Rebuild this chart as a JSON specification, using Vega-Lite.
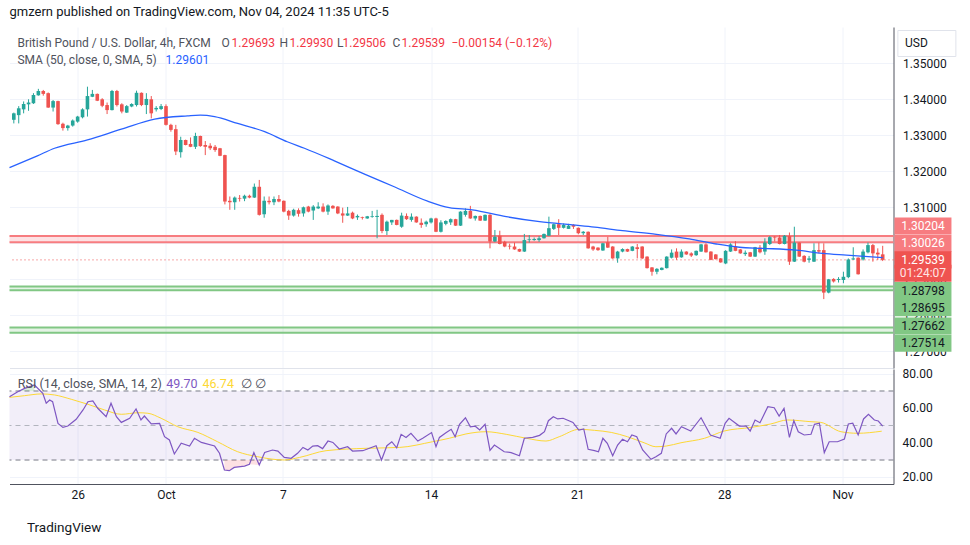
{
"$schema": "https://vega.github.io/schema/vega-lite/v6.json",
"background": "#ffffff",
"padding": {"left": 6.5, "top": 6, "right": 5, "bottom": 5},
"bounds": "flush",
"spacing": 1,
"title": {"text": "gmzern published on TradingView.com, Nov 04, 2024 11:35 UTC-5", "anchor": "start", "frame": "group", "fontSize": 13, "fontWeight": "normal", "font": "Roboto", "color": "#131722", "offset": 8},
"config": {"view": {"stroke": null}, "font": "Roboto", "text": {"font": "Roboto", "fontSize": 12.5, "baseline": "middle", "align": "left"}, "axis": {"labelFont": "Roboto", "titleFont": "Roboto"}},
"datasets": {
"candles": [
{"n":1,"o":1.3343,"h":1.3363,"l":1.3333,"c":1.3361},{"n":2,"o":1.3356,"h":1.3381,"l":1.3333,"c":1.3375},{"n":3,"o":1.3372,"h":1.3394,"l":1.3361,"c":1.3387},{"n":4,"o":1.3386,"h":1.34,"l":1.3368,"c":1.3391},{"n":5,"o":1.3389,"h":1.3417,"l":1.3387,"c":1.3412},{"n":6,"o":1.3411,"h":1.3429,"l":1.341,"c":1.3423},{"n":7,"o":1.3423,"h":1.3426,"l":1.341,"c":1.3415},{"n":8,"o":1.3417,"h":1.3419,"l":1.3376,"c":1.3377},{"n":9,"o":1.3377,"h":1.3398,"l":1.3366,"c":1.3395},{"n":10,"o":1.3395,"h":1.3396,"l":1.3329,"c":1.3331},
{"n":11,"o":1.3332,"h":1.3335,"l":1.3313,"c":1.332},{"n":12,"o":1.332,"h":1.3329,"l":1.3313,"c":1.3327},{"n":13,"o":1.3327,"h":1.3344,"l":1.3324,"c":1.3341},{"n":14,"o":1.3338,"h":1.3354,"l":1.3335,"c":1.3352},{"n":15,"o":1.335,"h":1.3375,"l":1.3347,"c":1.3372},{"n":16,"o":1.3372,"h":1.3435,"l":1.3352,"c":1.3409},{"n":17,"o":1.3407,"h":1.3426,"l":1.3406,"c":1.3415},{"n":18,"o":1.3415,"h":1.3416,"l":1.3395,"c":1.3396},{"n":19,"o":1.34,"h":1.3403,"l":1.3378,"c":1.3382},{"n":20,"o":1.3384,"h":1.3391,"l":1.3359,"c":1.337},
{"n":21,"o":1.337,"h":1.3426,"l":1.3369,"c":1.3423},{"n":22,"o":1.3423,"h":1.3426,"l":1.338,"c":1.3384},{"n":23,"o":1.3386,"h":1.3389,"l":1.3361,"c":1.3366},{"n":24,"o":1.3363,"h":1.3384,"l":1.3362,"c":1.3381},{"n":25,"o":1.338,"h":1.3389,"l":1.3378,"c":1.3387},{"n":26,"o":1.3384,"h":1.3424,"l":1.338,"c":1.3418},{"n":27,"o":1.3418,"h":1.3419,"l":1.3381,"c":1.3384},{"n":28,"o":1.3384,"h":1.3417,"l":1.3359,"c":1.3401},{"n":29,"o":1.34,"h":1.3409,"l":1.3347,"c":1.3361},{"n":30,"o":1.3372,"h":1.3381,"l":1.3366,"c":1.3376},
{"n":31,"o":1.3373,"h":1.3387,"l":1.337,"c":1.3381},{"n":32,"o":1.3381,"h":1.3386,"l":1.3327,"c":1.3329},{"n":33,"o":1.3329,"h":1.3332,"l":1.331,"c":1.3315},{"n":34,"o":1.3317,"h":1.3329,"l":1.3245,"c":1.3255},{"n":35,"o":1.3253,"h":1.3296,"l":1.3238,"c":1.3287},{"n":36,"o":1.3287,"h":1.3288,"l":1.3272,"c":1.3273},{"n":37,"o":1.3276,"h":1.3294,"l":1.3267,"c":1.3268},{"n":38,"o":1.3268,"h":1.3307,"l":1.3262,"c":1.3298},{"n":39,"o":1.3298,"h":1.3299,"l":1.3268,"c":1.327},{"n":40,"o":1.3273,"h":1.3284,"l":1.3245,"c":1.3268},
{"n":41,"o":1.3271,"h":1.3278,"l":1.3259,"c":1.3264},{"n":42,"o":1.3268,"h":1.3273,"l":1.3254,"c":1.3259},{"n":43,"o":1.3264,"h":1.3265,"l":1.3242,"c":1.3243},{"n":44,"o":1.3245,"h":1.3246,"l":1.3108,"c":1.3116},{"n":45,"o":1.3118,"h":1.313,"l":1.3093,"c":1.3114},{"n":46,"o":1.3114,"h":1.313,"l":1.3093,"c":1.3127},{"n":47,"o":1.3126,"h":1.3134,"l":1.3116,"c":1.3124},{"n":48,"o":1.3124,"h":1.3135,"l":1.3117,"c":1.3132},{"n":49,"o":1.3132,"h":1.3135,"l":1.3125,"c":1.3127},{"n":50,"o":1.3127,"h":1.3166,"l":1.3126,"c":1.3157},
{"n":51,"o":1.3157,"h":1.3176,"l":1.3077,"c":1.3079},{"n":52,"o":1.3081,"h":1.313,"l":1.3071,"c":1.3118},{"n":53,"o":1.3118,"h":1.313,"l":1.3108,"c":1.3114},{"n":54,"o":1.3114,"h":1.313,"l":1.3106,"c":1.3123},{"n":55,"o":1.3123,"h":1.3134,"l":1.3114,"c":1.3116},{"n":56,"o":1.3118,"h":1.3119,"l":1.3086,"c":1.3088},{"n":57,"o":1.309,"h":1.3093,"l":1.3065,"c":1.3077},{"n":58,"o":1.3077,"h":1.3096,"l":1.3074,"c":1.3093},{"n":59,"o":1.3092,"h":1.3097,"l":1.3074,"c":1.3082},{"n":60,"o":1.3083,"h":1.3102,"l":1.3074,"c":1.31},
{"n":61,"o":1.3102,"h":1.3104,"l":1.3086,"c":1.3088},{"n":62,"o":1.3091,"h":1.3106,"l":1.3065,"c":1.3102},{"n":63,"o":1.3097,"h":1.3114,"l":1.3095,"c":1.3102},{"n":64,"o":1.3102,"h":1.3111,"l":1.3086,"c":1.3088},{"n":65,"o":1.3088,"h":1.3108,"l":1.3079,"c":1.3105},{"n":66,"o":1.3104,"h":1.3106,"l":1.3096,"c":1.3097},{"n":67,"o":1.3102,"h":1.3103,"l":1.3081,"c":1.3083},{"n":68,"o":1.3083,"h":1.3099,"l":1.3057,"c":1.3077},{"n":69,"o":1.3077,"h":1.3101,"l":1.3076,"c":1.3083},{"n":70,"o":1.3085,"h":1.3088,"l":1.3067,"c":1.3069},
{"n":71,"o":1.3072,"h":1.308,"l":1.3065,"c":1.3076},{"n":72,"o":1.3073,"h":1.3074,"l":1.3066,"c":1.3071},{"n":73,"o":1.3069,"h":1.3076,"l":1.3068,"c":1.3075},{"n":74,"o":1.3073,"h":1.309,"l":1.3071,"c":1.3075},{"n":75,"o":1.3073,"h":1.3093,"l":1.3014,"c":1.3076},{"n":76,"o":1.3079,"h":1.3083,"l":1.3028,"c":1.3034},{"n":77,"o":1.3034,"h":1.3063,"l":1.3023,"c":1.306},{"n":78,"o":1.3058,"h":1.3065,"l":1.3051,"c":1.3065},{"n":79,"o":1.3065,"h":1.3066,"l":1.305,"c":1.3051},{"n":80,"o":1.3046,"h":1.3085,"l":1.3043,"c":1.3077},
{"n":81,"o":1.3076,"h":1.3083,"l":1.3065,"c":1.3067},{"n":82,"o":1.3065,"h":1.3083,"l":1.306,"c":1.3074},{"n":83,"o":1.3074,"h":1.3075,"l":1.3057,"c":1.3058},{"n":84,"o":1.3057,"h":1.3069,"l":1.3043,"c":1.3051},{"n":85,"o":1.3053,"h":1.3063,"l":1.3046,"c":1.306},{"n":86,"o":1.3058,"h":1.3071,"l":1.3055,"c":1.3069},{"n":87,"o":1.3069,"h":1.3071,"l":1.3031,"c":1.3032},{"n":88,"o":1.3032,"h":1.3064,"l":1.303,"c":1.3058},{"n":89,"o":1.3054,"h":1.3064,"l":1.305,"c":1.3062},{"n":90,"o":1.3058,"h":1.3069,"l":1.3051,"c":1.3067},
{"n":91,"o":1.3067,"h":1.3068,"l":1.3048,"c":1.3049},{"n":92,"o":1.3049,"h":1.3089,"l":1.3048,"c":1.3088},{"n":93,"o":1.3079,"h":1.3097,"l":1.3074,"c":1.309},{"n":94,"o":1.309,"h":1.3104,"l":1.3068,"c":1.3069},{"n":95,"o":1.3069,"h":1.3077,"l":1.3063,"c":1.3076},{"n":96,"o":1.3076,"h":1.3077,"l":1.3062,"c":1.3063},{"n":97,"o":1.3063,"h":1.308,"l":1.3062,"c":1.3079},{"n":98,"o":1.3079,"h":1.3081,"l":1.2986,"c":1.3005},{"n":99,"o":1.3005,"h":1.3037,"l":1.3003,"c":1.3018},{"n":100,"o":1.3021,"h":1.3035,"l":1.2997,"c":1.2998},
{"n":101,"o":1.3004,"h":1.3007,"l":1.2989,"c":1.2991},{"n":102,"o":1.2993,"h":1.2999,"l":1.2983,"c":1.2991},{"n":103,"o":1.2991,"h":1.3002,"l":1.2982,"c":1.2983},{"n":104,"o":1.2984,"h":1.2985,"l":1.2976,"c":1.2977},{"n":105,"o":1.2977,"h":1.3026,"l":1.2976,"c":1.3009},{"n":106,"o":1.3009,"h":1.3023,"l":1.3002,"c":1.3011},{"n":107,"o":1.3009,"h":1.3016,"l":1.3007,"c":1.3012},{"n":108,"o":1.3009,"h":1.302,"l":1.3004,"c":1.3014},{"n":109,"o":1.3014,"h":1.3027,"l":1.3013,"c":1.3026},{"n":110,"o":1.3021,"h":1.3074,"l":1.302,"c":1.3042},
{"n":111,"o":1.304,"h":1.3055,"l":1.3037,"c":1.3053},{"n":112,"o":1.3053,"h":1.3067,"l":1.3023,"c":1.3043},{"n":113,"o":1.3043,"h":1.3055,"l":1.3041,"c":1.3051},{"n":114,"o":1.304,"h":1.3054,"l":1.304,"c":1.3049},{"n":115,"o":1.3051,"h":1.3053,"l":1.304,"c":1.3046},{"n":116,"o":1.3043,"h":1.3044,"l":1.3025,"c":1.3028},{"n":117,"o":1.3028,"h":1.3034,"l":1.3023,"c":1.3032},{"n":118,"o":1.3032,"h":1.3033,"l":1.2985,"c":1.2986},{"n":119,"o":1.2991,"h":1.2993,"l":1.2979,"c":1.2983},{"n":120,"o":1.2988,"h":1.2989,"l":1.2979,"c":1.2981},
{"n":121,"o":1.298,"h":1.3001,"l":1.2979,"c":1.3},{"n":122,"o":1.3003,"h":1.3018,"l":1.2987,"c":1.2988},{"n":123,"o":1.2991,"h":1.2992,"l":1.2957,"c":1.2958},{"n":124,"o":1.2958,"h":1.2979,"l":1.2946,"c":1.2977},{"n":125,"o":1.2977,"h":1.2986,"l":1.2975,"c":1.2984},{"n":126,"o":1.2984,"h":1.2985,"l":1.2976,"c":1.2977},{"n":127,"o":1.2979,"h":1.2992,"l":1.2978,"c":1.2991},{"n":128,"o":1.2989,"h":1.2998,"l":1.2958,"c":1.2984},{"n":129,"o":1.2991,"h":1.2992,"l":1.2956,"c":1.2958},{"n":130,"o":1.2963,"h":1.2964,"l":1.293,"c":1.2931},
{"n":131,"o":1.2933,"h":1.2934,"l":1.291,"c":1.2921},{"n":132,"o":1.2921,"h":1.2931,"l":1.2914,"c":1.2929},{"n":133,"o":1.2926,"h":1.2933,"l":1.2925,"c":1.2932},{"n":134,"o":1.2931,"h":1.2964,"l":1.293,"c":1.2963},{"n":135,"o":1.296,"h":1.2983,"l":1.2958,"c":1.2974},{"n":136,"o":1.2977,"h":1.2986,"l":1.2954,"c":1.296},{"n":137,"o":1.2961,"h":1.2983,"l":1.296,"c":1.2977},{"n":138,"o":1.2977,"h":1.2978,"l":1.2968,"c":1.2969},{"n":139,"o":1.2972,"h":1.2975,"l":1.2962,"c":1.2966},{"n":140,"o":1.2967,"h":1.298,"l":1.2965,"c":1.2979},
{"n":141,"o":1.2977,"h":1.2998,"l":1.2976,"c":1.2997},{"n":142,"o":1.2997,"h":1.3,"l":1.2974,"c":1.2975},{"n":143,"o":1.2977,"h":1.2978,"l":1.2953,"c":1.2954},{"n":144,"o":1.2969,"h":1.297,"l":1.2955,"c":1.2956},{"n":145,"o":1.2958,"h":1.2959,"l":1.2946,"c":1.2947},{"n":146,"o":1.2944,"h":1.2981,"l":1.2942,"c":1.2979},{"n":147,"o":1.2977,"h":1.3,"l":1.2976,"c":1.2997},{"n":148,"o":1.2991,"h":1.3006,"l":1.2978,"c":1.2979},{"n":149,"o":1.2983,"h":1.2984,"l":1.2971,"c":1.2972},{"n":150,"o":1.297,"h":1.298,"l":1.2965,"c":1.2974},
{"n":151,"o":1.2975,"h":1.2976,"l":1.2962,"c":1.2963},{"n":152,"o":1.2963,"h":1.299,"l":1.2962,"c":1.2989},{"n":153,"o":1.2988,"h":1.2995,"l":1.2972,"c":1.2975},{"n":154,"o":1.2977,"h":1.3014,"l":1.2968,"c":1.3002},{"n":155,"o":1.2998,"h":1.302,"l":1.2995,"c":1.3017},{"n":156,"o":1.3018,"h":1.302,"l":1.3005,"c":1.3016},{"n":157,"o":1.3016,"h":1.3023,"l":1.2997,"c":1.2998},{"n":158,"o":1.2998,"h":1.3023,"l":1.2997,"c":1.3021},{"n":159,"o":1.302,"h":1.303,"l":1.294,"c":1.2949},{"n":160,"o":1.2949,"h":1.3046,"l":1.2948,"c":1.3002},
{"n":161,"o":1.3002,"h":1.3003,"l":1.2962,"c":1.2963},{"n":162,"o":1.2965,"h":1.2967,"l":1.2947,"c":1.2949},{"n":163,"o":1.2954,"h":1.2965,"l":1.2946,"c":1.2958},{"n":164,"o":1.2949,"h":1.3,"l":1.2948,"c":1.2981},{"n":165,"o":1.2981,"h":1.3002,"l":1.2972,"c":1.2977},{"n":166,"o":1.2981,"h":1.3,"l":1.2845,"c":1.2863},{"n":167,"o":1.2863,"h":1.2901,"l":1.2861,"c":1.29},{"n":168,"o":1.2901,"h":1.2903,"l":1.2891,"c":1.2894},{"n":169,"o":1.2898,"h":1.2906,"l":1.2891,"c":1.2901},{"n":170,"o":1.2898,"h":1.2921,"l":1.2889,"c":1.2907},
{"n":171,"o":1.2906,"h":1.2958,"l":1.2903,"c":1.2955},{"n":172,"o":1.2955,"h":1.2989,"l":1.2954,"c":1.2958},{"n":173,"o":1.296,"h":1.2961,"l":1.2913,"c":1.2914},{"n":174,"o":1.2955,"h":1.2983,"l":1.2952,"c":1.2977},{"n":175,"o":1.2975,"h":1.3002,"l":1.2972,"c":1.2995},{"n":176,"o":1.2995,"h":1.2998,"l":1.2949,"c":1.2972},{"n":177,"o":1.2974,"h":1.2986,"l":1.2954,"c":1.2969},{"n":178,"o":1.29693,"h":1.2993,"l":1.29506,"c":1.29539}
],
"sma": [
{"n":0.12,"v":1.321},{"n":5.8,"v":1.3243},{"n":9.3,"v":1.3264},{"n":16,"v":1.3287},{"n":22.9,"v":1.3317},{"n":29.7,"v":1.3345},{"n":36.4,"v":1.3354},{"n":39,"v":1.3356},{"n":41.9,"v":1.3352},{"n":46.6,"v":1.3333},{"n":52.1,"v":1.331},{"n":56.7,"v":1.3282},{"n":60.2,"v":1.3264},{"n":66.3,"v":1.3229},{"n":72.8,"v":1.319},{"n":78.5,"v":1.3157},{"n":85.3,"v":1.3117},{"n":89.7,"v":1.3099},{"n":94.4,"v":1.3093},{"n":101.3,"v":1.3074},{"n":108.1,"v":1.306},{"n":114.8,"v":1.3051},{"n":119.3,"v":1.3045},{"n":125,"v":1.3035},{"n":131.9,"v":1.3025},{"n":138.6,"v":1.3012},{"n":144.1,"v":1.2998},{"n":148.8,"v":1.2989},{"n":153.5,"v":1.2986},{"n":160.4,"v":1.2981},{"n":165.7,"v":1.2972},{"n":170.6,"v":1.2967},{"n":178,"v":1.296}
],
"rsi": [
{"n":0.12,"v":66.7},{"n":1.8,"v":69.6},{"n":3.2,"v":71.5},{"n":5.2,"v":73.5},{"n":6.9,"v":68.6},{"n":7.6,"v":62.9},{"n":8.3,"v":64.8},{"n":8.9,"v":63.8},{"n":10,"v":51.2},{"n":11,"v":48.9},{"n":12,"v":49.7},{"n":13.7,"v":53.6},{"n":15.1,"v":59},{"n":16.1,"v":63.8},{"n":17.1,"v":64.2},{"n":18.1,"v":60},{"n":19.8,"v":55.1},{"n":20.8,"v":62.9},{"n":21.9,"v":55.1},{"n":22.9,"v":51.8},{"n":24.6,"v":54.2},{"n":25.9,"v":59.6},{"n":26.9,"v":53.2},{"n":27.6,"v":55.5},{"n":29,"v":50.9},{"n":30.7,"v":51.2},{"n":31.7,"v":43.5},{"n":32.7,"v":41.6},{"n":33.7,"v":33.5},{"n":35.1,"v":39.7},{"n":36.8,"v":38.1},{"n":37.8,"v":42.6},{"n":39.2,"v":40.2},{"n":41.9,"v":38.1},{"n":42.9,"v":33.9},{"n":43.9,"v":24.2},{"n":44.9,"v":23.8},{"n":45.9,"v":25.7},{"n":48,"v":26.5},{"n":49,"v":27.5},{"n":49.9,"v":34.3},{"n":51,"v":27.1},{"n":52.1,"v":34.4},{"n":53.7,"v":35.8},{"n":54.8,"v":35.2},{"n":56.1,"v":31.5},{"n":57.5,"v":31},{"n":58.8,"v":33.9},{"n":59.9,"v":37.3},{"n":60.9,"v":35.8},{"n":61.9,"v":38.1},{"n":62.9,"v":38.3},{"n":63.9,"v":36.6},{"n":65,"v":41},{"n":66,"v":40.2},{"n":67.3,"v":36.4},{"n":69,"v":37.7},{"n":70,"v":35.2},{"n":72.1,"v":35.4},{"n":74.8,"v":38.3},{"n":75.9,"v":30},{"n":77,"v":38.3},{"n":78,"v":40.6},{"n":79,"v":37.1},{"n":79.9,"v":44.9},{"n":80.9,"v":43.1},{"n":81.9,"v":45.5},{"n":83.3,"v":41},{"n":84.3,"v":42.6},{"n":86.1,"v":45.9},{"n":87,"v":37.7},{"n":87.7,"v":43.1},{"n":89.1,"v":45.9},{"n":90.1,"v":47.8},{"n":90.9,"v":43.5},{"n":91.8,"v":50.7},{"n":93,"v":54.5},{"n":94,"v":49.2},{"n":95,"v":49.6},{"n":95.9,"v":47.4},{"n":97,"v":50.7},{"n":98,"v":35.6},{"n":98.9,"v":38.7},{"n":100.9,"v":34.8},{"n":102.3,"v":34.3},{"n":104,"v":32.5},{"n":105,"v":42.6},{"n":106.7,"v":43.1},{"n":108.1,"v":44.3},{"n":109.1,"v":46.4},{"n":109.9,"v":52.8},{"n":110.9,"v":55.1},{"n":111.8,"v":53.8},{"n":112.9,"v":54.2},{"n":114.9,"v":51.8},{"n":116.1,"v":47.4},{"n":117.1,"v":48},{"n":118,"v":36.2},{"n":119.3,"v":35.4},{"n":120.1,"v":34.8},{"n":121,"v":42.6},{"n":121.9,"v":39.7},{"n":123,"v":32.5},{"n":124,"v":38.7},{"n":125,"v":42},{"n":126,"v":40.6},{"n":126.9,"v":44.5},{"n":127.9,"v":43.5},{"n":129.1,"v":35.8},{"n":130.8,"v":30.4},{"n":131.8,"v":31.9},{"n":132.9,"v":33.9},{"n":133.9,"v":45.1},{"n":135,"v":48.4},{"n":135.9,"v":45.1},{"n":137,"v":49.3},{"n":138.9,"v":46.8},{"n":141,"v":54.5},{"n":142.9,"v":44.5},{"n":144.9,"v":42.6},{"n":145.9,"v":51.3},{"n":146.7,"v":54.2},{"n":148.8,"v":49.7},{"n":150.2,"v":49.7},{"n":151,"v":46.8},{"n":152,"v":53.2},{"n":153,"v":51.6},{"n":154.6,"v":60.9},{"n":155.9,"v":60.3},{"n":156.9,"v":55.5},{"n":157.9,"v":59.9},{"n":159,"v":43.1},{"n":159.9,"v":52.8},{"n":160.8,"v":46.4},{"n":162,"v":44.5},{"n":163.4,"v":44.9},{"n":164.1,"v":50.7},{"n":165.1,"v":51.3},{"n":166.1,"v":34.3},{"n":167.1,"v":40.6},{"n":168.8,"v":40.6},{"n":170.2,"v":42.2},{"n":171,"v":50.9},{"n":171.9,"v":51.3},{"n":173,"v":44.5},{"n":174.1,"v":53.8},{"n":175.1,"v":56.5},{"n":176.3,"v":53.2},{"n":177.1,"v":52.6},{"n":178,"v":49.7}
],
"rsima": [
{"n":0.12,"v":66.3},{"n":3.2,"v":67.3},{"n":6.6,"v":68.3},{"n":9.3,"v":67.7},{"n":12.7,"v":65.2},{"n":16.1,"v":62.3},{"n":19.5,"v":59},{"n":22.9,"v":56.5},{"n":26.3,"v":57.4},{"n":28.3,"v":57.1},{"n":31,"v":54.2},{"n":34.4,"v":49.3},{"n":38.5,"v":46},{"n":42.5,"v":40.6},{"n":46.6,"v":34.8},{"n":50.7,"v":31.9},{"n":56.1,"v":30},{"n":59.2,"v":31.5},{"n":64.6,"v":35.4},{"n":72.8,"v":36.8},{"n":79.6,"v":37.3},{"n":86.3,"v":40.6},{"n":89.7,"v":42.6},{"n":93.1,"v":45.1},{"n":97.2,"v":46.4},{"n":101.3,"v":44.9},{"n":105.4,"v":42.6},{"n":109.4,"v":41},{"n":112.1,"v":43.5},{"n":116.2,"v":47.8},{"n":119.3,"v":47.2},{"n":122.7,"v":46},{"n":126,"v":43.5},{"n":129.4,"v":40},{"n":131.8,"v":37.7},{"n":133.9,"v":38.1},{"n":136.9,"v":40},{"n":141.7,"v":42.6},{"n":145.7,"v":46.8},{"n":151.2,"v":48.9},{"n":155.2,"v":50.9},{"n":158.6,"v":53.2},{"n":163.4,"v":52.2},{"n":165.4,"v":51.8},{"n":169.5,"v":46.4},{"n":172.9,"v":45.5},{"n":177.8,"v":46.7}
],
"bands": [{"lo":1.30026,"hi":1.30204,"k":"r"},{"lo":1.28695,"hi":1.28798,"k":"g"},{"lo":1.27514,"hi":1.27662,"k":"g"}],
"levels": [{"p":1.30204,"k":"r"},{"p":1.30026,"k":"r"},{"p":1.28798,"k":"g"},{"p":1.28695,"k":"g"},{"p":1.27662,"k":"g"},{"p":1.27514,"k":"g"}]
},
"vconcat": [
{
"width": 884, "height": 341,
"layer": [
{"data": {"name": "bands"}, "mark": {"type": "rect", "opacity": 0.15},
 "encoding": {"y": {"field": "lo", "type": "quantitative", "scale": {"domain": [1.26536, 1.36008], "nice": false, "zero": false},
   "axis": {"orient": "right", "values": [1.27, 1.28, 1.29, 1.3, 1.31, 1.32, 1.33, 1.34, 1.35], "format": ".5f", "grid": true, "gridColor": "#f0f3fa", "domain": true, "domainColor": "#50535e", "ticks": false, "labelPadding": 9, "labelFontSize": 12, "labelColor": "#131722", "labelOverlap": false, "title": null, "zindex": 0}},
  "y2": {"field": "hi"},
  "color": {"condition": {"test": "datum.k=='r'", "value": "#f23645"}, "value": "#4caf50"}}},
{"data": {"name": "levels"}, "mark": {"type": "rule", "strokeWidth": 2},
 "encoding": {"y": {"field": "p", "type": "quantitative"}, "color": {"condition": {"test": "datum.k=='r'", "value": "#f77c80"}, "value": "#81c784"}}},
{"data": {"values": [{"p": 1.29539}]}, "mark": {"type": "rule", "color": "#ef5350", "strokeDash": [1, 3], "strokeWidth": 1},
 "encoding": {"y": {"field": "p", "type": "quantitative"}}},
{"data": {"name": "candles"}, "mark": {"type": "rule", "strokeWidth": 1},
 "encoding": {"x": {"field": "n", "type": "quantitative", "scale": {"domain": [0.12, 180.2], "nice": false, "zero": false, "padding": 0},
   "axis": {"values": [14, 32, 55.8, 86, 115.8, 145.7, 169.8], "labels": false, "ticks": false, "domain": true, "domainColor": "#e0e3eb", "grid": true, "gridColor": "#f0f3fa", "title": null, "zindex": 0}},
  "y": {"field": "l", "type": "quantitative"}, "y2": {"field": "h"},
  "color": {"condition": {"test": "datum.c>=datum.o", "value": "#26a69a"}, "value": "#ef5350"}}},
{"data": {"name": "candles"}, "mark": {"type": "bar", "width": 3.6},
 "encoding": {"x": {"field": "n", "type": "quantitative", "scale": {"padding": 0}}, "y": {"field": "o", "type": "quantitative"}, "y2": {"field": "c"},
  "color": {"condition": {"test": "datum.c>=datum.o", "value": "#26a69a"}, "value": "#ef5350"}}},
{"data": {"name": "sma"}, "mark": {"type": "line", "color": "#2962ff", "strokeWidth": 1.3, "interpolate": "monotone"},
 "encoding": {"x": {"field": "n", "type": "quantitative"}, "y": {"field": "v", "type": "quantitative"}}},
{"data": {"values": [{}]}, "mark": {"type": "text", "text": "British Pound / U.S. Dollar, 4h, FXCM", "color": "#4f525c", "fontSize": 12}, "encoding": {"x": {"datum": 1.73, "type": "quantitative"}, "y": {"datum": 1.3555, "type": "quantitative"}}},
{"data": {"values": [{}]}, "mark": {"type": "text", "text": "O", "color": "#4f525c", "fontSize": 12}, "encoding": {"x": {"datum": 43.31, "type": "quantitative"}, "y": {"datum": 1.3555, "type": "quantitative"}}},
{"data": {"values": [{}]}, "mark": {"type": "text", "text": "1.29693", "color": "#f23645", "fontSize": 12}, "encoding": {"x": {"datum": 45.34, "type": "quantitative"}, "y": {"datum": 1.3555, "type": "quantitative"}}},
{"data": {"values": [{}]}, "mark": {"type": "text", "text": "H", "color": "#4f525c", "fontSize": 12}, "encoding": {"x": {"datum": 55.12, "type": "quantitative"}, "y": {"datum": 1.3555, "type": "quantitative"}}},
{"data": {"values": [{}]}, "mark": {"type": "text", "text": "1.29930", "color": "#f23645", "fontSize": 12}, "encoding": {"x": {"datum": 57.16, "type": "quantitative"}, "y": {"datum": 1.3555, "type": "quantitative"}}},
{"data": {"values": [{}]}, "mark": {"type": "text", "text": "L", "color": "#4f525c", "fontSize": 12}, "encoding": {"x": {"datum": 66.83, "type": "quantitative"}, "y": {"datum": 1.3555, "type": "quantitative"}}},
{"data": {"values": [{}]}, "mark": {"type": "text", "text": "1.29506", "color": "#f23645", "fontSize": 12}, "encoding": {"x": {"datum": 67.95, "type": "quantitative"}, "y": {"datum": 1.3555, "type": "quantitative"}}},
{"data": {"values": [{}]}, "mark": {"type": "text", "text": "C", "color": "#4f525c", "fontSize": 12}, "encoding": {"x": {"datum": 78.14, "type": "quantitative"}, "y": {"datum": 1.3555, "type": "quantitative"}}},
{"data": {"values": [{}]}, "mark": {"type": "text", "text": "1.29539", "color": "#f23645", "fontSize": 12}, "encoding": {"x": {"datum": 79.97, "type": "quantitative"}, "y": {"datum": 1.3555, "type": "quantitative"}}},
{"data": {"values": [{}]}, "mark": {"type": "text", "text": "−0.00154 (−0.12%)", "color": "#f23645", "fontSize": 12}, "encoding": {"x": {"datum": 90.16, "type": "quantitative"}, "y": {"datum": 1.3555, "type": "quantitative"}}},
{"data": {"values": [{}]}, "mark": {"type": "text", "text": "SMA (50, close, 0, SMA, 5)", "color": "#4f525c", "fontSize": 12}, "encoding": {"x": {"datum": 1.73, "type": "quantitative"}, "y": {"datum": 1.35092, "type": "quantitative"}}},
{"data": {"values": [{}]}, "mark": {"type": "text", "text": "1.29601", "color": "#2962ff", "fontSize": 12}, "encoding": {"x": {"datum": 31.9, "type": "quantitative"}, "y": {"datum": 1.35092, "type": "quantitative"}}},
{"data": {"values": [{}]}, "mark": {"type": "point", "shape": "M-1,-0.448L1,-0.448L1,0.448L-1,0.448Z", "size": 3364, "filled": false, "stroke": "#e0e3eb", "strokeWidth": 1, "opacity": 1}, "encoding": {"x": {"datum": 187.0, "type": "quantitative"}, "y": {"datum": 1.3555, "type": "quantitative"}}},
{"data": {"values": [{}]}, "mark": {"type": "text", "text": "USD", "color": "#131722", "align": "center", "fontSize": 12}, "encoding": {"x": {"datum": 184.88, "type": "quantitative"}, "y": {"datum": 1.3555, "type": "quantitative"}}},
{"data": {"values": [{"p": 1.30204}]}, "encoding": {"x": {"datum": 186.2, "type": "quantitative"}, "y": {"field": "p", "type": "quantitative"}}, "layer": [
 {"mark": {"type": "point", "shape": "M-1,-0.3L1,-0.3L1,0.3L-1,0.3Z", "size": 3249, "filled": true, "opacity": 1, "color": "#f77c80", "yOffset": -10}},
 {"mark": {"type": "text", "text": "1.30204", "color": "#ffffff", "align": "center", "fontSize": 12, "yOffset": -10}}]},
{"data": {"values": [{"p": 1.30026}]}, "encoding": {"x": {"datum": 186.2, "type": "quantitative"}, "y": {"field": "p", "type": "quantitative"}}, "layer": [
 {"mark": {"type": "point", "shape": "M-1,-0.3L1,-0.3L1,0.3L-1,0.3Z", "size": 3249, "filled": true, "opacity": 1, "color": "#f77c80", "yOffset": 1}},
 {"mark": {"type": "text", "text": "1.30026", "color": "#ffffff", "align": "center", "fontSize": 12, "yOffset": 1}}]},
{"data": {"values": [{"p": 1.29539}]}, "encoding": {"x": {"datum": 186.2, "type": "quantitative"}, "y": {"field": "p", "type": "quantitative"}}, "layer": [
 {"mark": {"type": "point", "shape": "M-1,-0.3L1,-0.3L1,0.3L-1,0.3Z", "size": 3249, "filled": true, "opacity": 1, "color": "#ef5350", "yOffset": 0}},
 {"mark": {"type": "point", "shape": "M-1,-0.3L1,-0.3L1,0.3L-1,0.3Z", "size": 3249, "filled": true, "opacity": 1, "color": "#ef5350", "yOffset": 13.4}},
 {"mark": {"type": "text", "text": "1.29539", "color": "#ffffff", "align": "center", "fontSize": 12, "yOffset": 0}},
 {"mark": {"type": "text", "text": "01:24:07", "color": "#ffe4e4", "align": "center", "fontSize": 12, "yOffset": 13.4}}]},
{"data": {"values": [{"p": 1.28798}]}, "encoding": {"x": {"datum": 186.2, "type": "quantitative"}, "y": {"field": "p", "type": "quantitative"}}, "layer": [
 {"mark": {"type": "point", "shape": "M-1,-0.3L1,-0.3L1,0.3L-1,0.3Z", "size": 3249, "filled": true, "opacity": 1, "color": "#81c784", "yOffset": 4}},
 {"mark": {"type": "text", "text": "1.28798", "color": "#131722", "align": "center", "fontSize": 12, "yOffset": 4}}]},
{"data": {"values": [{"p": 1.28695}]}, "encoding": {"x": {"datum": 186.2, "type": "quantitative"}, "y": {"field": "p", "type": "quantitative"}}, "layer": [
 {"mark": {"type": "point", "shape": "M-1,-0.3L1,-0.3L1,0.3L-1,0.3Z", "size": 3249, "filled": true, "opacity": 1, "color": "#81c784", "yOffset": 17.4}},
 {"mark": {"type": "text", "text": "1.28695", "color": "#131722", "align": "center", "fontSize": 12, "yOffset": 17.4}}]},
{"data": {"values": [{"p": 1.27662}]}, "encoding": {"x": {"datum": 186.2, "type": "quantitative"}, "y": {"field": "p", "type": "quantitative"}}, "layer": [
 {"mark": {"type": "point", "shape": "M-1,-0.3L1,-0.3L1,0.3L-1,0.3Z", "size": 3249, "filled": true, "opacity": 1, "color": "#81c784", "yOffset": -1.5}},
 {"mark": {"type": "text", "text": "1.27662", "color": "#131722", "align": "center", "fontSize": 12, "yOffset": -1.5}}]},
{"data": {"values": [{"p": 1.27514}]}, "encoding": {"x": {"datum": 186.2, "type": "quantitative"}, "y": {"field": "p", "type": "quantitative"}}, "layer": [
 {"mark": {"type": "point", "shape": "M-1,-0.3L1,-0.3L1,0.3L-1,0.3Z", "size": 3249, "filled": true, "opacity": 1, "color": "#81c784", "yOffset": 10.5}},
 {"mark": {"type": "text", "text": "1.27514", "color": "#131722", "align": "center", "fontSize": 12, "yOffset": 10.5}}]}
]
},
{
"width": 884, "height": 115,
"layer": [
{"data": {"values": [{"a": 30, "b": 70}]}, "mark": {"type": "rect", "color": "#7e57c2", "opacity": 0.1},
 "encoding": {"y": {"field": "a", "type": "quantitative"}, "y2": {"field": "b"}}},
{"data": {"values": [{"v": 70, "k": "o"}, {"v": 50, "k": "m"}, {"v": 30, "k": "o"}]}, "mark": {"type": "rule", "strokeDash": [5, 4], "strokeWidth": 1},
 "encoding": {"y": {"field": "v", "type": "quantitative"}, "color": {"condition": {"test": "datum.k=='m'", "value": "#b2b5be"}, "value": "#787b86"}}},
{"data": {"name": "rsi"}, "transform": [{"filter": "datum.v > 69"}], "mark": {"type": "area", "color": "#4caf50", "opacity": 0.2},
 "encoding": {"x": {"field": "n", "type": "quantitative"}, "y": {"field": "v", "type": "quantitative"}, "y2": {"datum": 70}}},
{"data": {"name": "rsi"}, "transform": [{"filter": "datum.n > 43 && datum.n < 52 && datum.v < 31"}], "mark": {"type": "area", "color": "#f23645", "opacity": 0.15},
 "encoding": {"x": {"field": "n", "type": "quantitative"}, "y": {"field": "v", "type": "quantitative"}, "y2": {"datum": 30}}},
{"data": {"name": "rsima"}, "mark": {"type": "line", "color": "#fdd835", "strokeWidth": 1, "interpolate": "monotone"},
 "encoding": {"x": {"field": "n", "type": "quantitative"}, "y": {"field": "v", "type": "quantitative"}}},
{"data": {"name": "rsi"}, "mark": {"type": "line", "color": "#7e57c2", "strokeWidth": 1.2},
 "encoding": {"x": {"field": "n", "type": "quantitative", "scale": {"domain": [0.12, 180.2], "nice": false, "zero": false, "padding": 0},
   "axis": {"values": [14, 32, 55.8, 86, 115.8, 145.7, 169.8], "labelExpr": "datum.value < 20 ? '26' : datum.value < 40 ? 'Oct' : datum.value < 70 ? '7' : datum.value < 100 ? '14' : datum.value < 130 ? '21' : datum.value < 160 ? '28' : 'Nov'", "grid": true, "gridColor": "#f0f3fa", "domain": true, "domainColor": "#50535e", "ticks": false, "labelPadding": 5, "labelFontSize": 12, "labelColor": "#131722", "title": "TradingView", "titleAnchor": "start", "titleAlign": "left", "titleBaseline": "middle", "titleX": 17, "titleY": 43, "titleFontSize": 13.5, "titleFontWeight": "normal", "titleColor": "#131722", "zindex": 0}},
  "y": {"field": "v", "type": "quantitative", "scale": {"domain": [16.1, 82.75], "nice": false, "zero": false},
   "axis": {"orient": "right", "values": [20, 40, 60, 80], "labels": false, "grid": true, "gridColor": "#f0f3fa", "domain": true, "domainColor": "#50535e", "ticks": false, "title": null, "zindex": 0}}}},
{"data": {"values": [{"t": 80}, {"t": 60}, {"t": 40}, {"t": 20}]}, "mark": {"type": "text", "color": "#131722", "fontSize": 12},
 "encoding": {"x": {"datum": 182.03, "type": "quantitative"}, "y": {"field": "t", "type": "quantitative"}, "text": {"field": "t", "type": "quantitative", "format": ".2f"}}},
{"data": {"values": [{}]}, "mark": {"type": "text", "text": "RSI (14, close, SMA, 14, 2)", "color": "#4f525c"}, "encoding": {"x": {"datum": 1.81, "type": "quantitative"}, "y": {"datum": 73.88, "type": "quantitative"}}},
{"data": {"values": [{}]}, "mark": {"type": "text", "text": "49.70", "color": "#7e57c2"}, "encoding": {"x": {"datum": 32.04, "type": "quantitative"}, "y": {"datum": 73.88, "type": "quantitative"}}},
{"data": {"values": [{}]}, "mark": {"type": "text", "text": "46.74", "color": "#fdd835"}, "encoding": {"x": {"datum": 39.44, "type": "quantitative"}, "y": {"datum": 73.88, "type": "quantitative"}}},
{"data": {"values": [{}]}, "mark": {"type": "text", "text": "∅", "color": "#4f525c"}, "encoding": {"x": {"datum": 47.18, "type": "quantitative"}, "y": {"datum": 73.88, "type": "quantitative"}}},
{"data": {"values": [{}]}, "mark": {"type": "text", "text": "∅", "color": "#4f525c"}, "encoding": {"x": {"datum": 50.17, "type": "quantitative"}, "y": {"datum": 73.88, "type": "quantitative"}}}
]
}
]
}
